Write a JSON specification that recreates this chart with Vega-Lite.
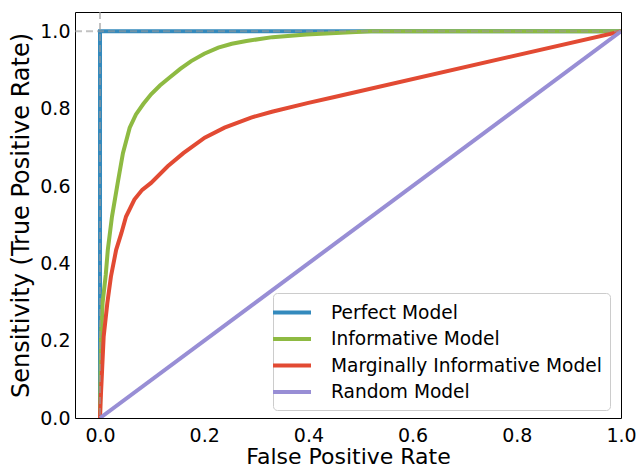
{
  "$schema": "https://vega.github.io/schema/vega-lite/v6.json",
  "width": 546,
  "height": 406,
  "autosize": {"type": "none"},
  "padding": {"left": 75, "top": 12, "right": 15, "bottom": 50},
  "config": {
    "font": "DejaVu Sans",
    "view": {"stroke": "#000000", "strokeWidth": 1},
    "axis": {"grid": false, "domain": false, "ticks": false, "labelFlush": false, "labelOverlap": false, "labelColor": "#000000", "titleColor": "#000000", "labelFontSize": 19, "titleFontSize": 22, "titleFontWeight": "normal"},
    "legend": {"orient": "none", "legendX": 198, "legendY": 281, "fillColor": "rgba(255,255,255,0.8)", "strokeColor": "#cccccc", "cornerRadius": 4, "padding": 8, "symbolType": "M-2,0H2", "symbolSize": 361, "symbolStrokeWidth": 4, "symbolOffset": -0.5, "labelFontSize": 18.6, "labelOffset": 27.5, "rowPadding": 4.5, "labelColor": "#000000", "labelLimit": 400}
  },
  "layer": [
    {
      "data": {"values": [
        {"model": "Perfect Model", "i": 0, "fpr": 0, "tpr": 0},
        {"model": "Perfect Model", "i": 1, "fpr": 0, "tpr": 1},
        {"model": "Perfect Model", "i": 2, "fpr": 1, "tpr": 1},
        {"model": "Informative Model", "i": 0, "fpr": 0, "tpr": 0},
        {"model": "Informative Model", "i": 1, "fpr": 0.001, "tpr": 0.1},
        {"model": "Informative Model", "i": 2, "fpr": 0.002, "tpr": 0.21},
        {"model": "Informative Model", "i": 3, "fpr": 0.005, "tpr": 0.298},
        {"model": "Informative Model", "i": 4, "fpr": 0.011, "tpr": 0.37},
        {"model": "Informative Model", "i": 5, "fpr": 0.015, "tpr": 0.435},
        {"model": "Informative Model", "i": 6, "fpr": 0.023, "tpr": 0.521},
        {"model": "Informative Model", "i": 7, "fpr": 0.034, "tpr": 0.608},
        {"model": "Informative Model", "i": 8, "fpr": 0.044, "tpr": 0.685},
        {"model": "Informative Model", "i": 9, "fpr": 0.057, "tpr": 0.751},
        {"model": "Informative Model", "i": 10, "fpr": 0.069, "tpr": 0.785},
        {"model": "Informative Model", "i": 11, "fpr": 0.083, "tpr": 0.812},
        {"model": "Informative Model", "i": 12, "fpr": 0.098, "tpr": 0.837},
        {"model": "Informative Model", "i": 13, "fpr": 0.115, "tpr": 0.86},
        {"model": "Informative Model", "i": 14, "fpr": 0.133, "tpr": 0.88},
        {"model": "Informative Model", "i": 15, "fpr": 0.154, "tpr": 0.903},
        {"model": "Informative Model", "i": 16, "fpr": 0.175, "tpr": 0.923},
        {"model": "Informative Model", "i": 17, "fpr": 0.2, "tpr": 0.942},
        {"model": "Informative Model", "i": 18, "fpr": 0.227, "tpr": 0.958},
        {"model": "Informative Model", "i": 19, "fpr": 0.253, "tpr": 0.968},
        {"model": "Informative Model", "i": 20, "fpr": 0.281, "tpr": 0.975},
        {"model": "Informative Model", "i": 21, "fpr": 0.331, "tpr": 0.985},
        {"model": "Informative Model", "i": 22, "fpr": 0.396, "tpr": 0.992},
        {"model": "Informative Model", "i": 23, "fpr": 0.453, "tpr": 0.996},
        {"model": "Informative Model", "i": 24, "fpr": 0.52, "tpr": 1.0},
        {"model": "Informative Model", "i": 25, "fpr": 1.0, "tpr": 1.0},
        {"model": "Marginally Informative Model", "i": 0, "fpr": 0, "tpr": 0},
        {"model": "Marginally Informative Model", "i": 1, "fpr": 0.001, "tpr": 0.039},
        {"model": "Marginally Informative Model", "i": 2, "fpr": 0.004, "tpr": 0.124},
        {"model": "Marginally Informative Model", "i": 3, "fpr": 0.007, "tpr": 0.21},
        {"model": "Marginally Informative Model", "i": 4, "fpr": 0.014, "tpr": 0.297},
        {"model": "Marginally Informative Model", "i": 5, "fpr": 0.021, "tpr": 0.366},
        {"model": "Marginally Informative Model", "i": 6, "fpr": 0.031, "tpr": 0.435},
        {"model": "Marginally Informative Model", "i": 7, "fpr": 0.041, "tpr": 0.478},
        {"model": "Marginally Informative Model", "i": 8, "fpr": 0.05, "tpr": 0.521},
        {"model": "Marginally Informative Model", "i": 9, "fpr": 0.066, "tpr": 0.565},
        {"model": "Marginally Informative Model", "i": 10, "fpr": 0.081, "tpr": 0.59},
        {"model": "Marginally Informative Model", "i": 11, "fpr": 0.098, "tpr": 0.608},
        {"model": "Marginally Informative Model", "i": 12, "fpr": 0.13, "tpr": 0.651},
        {"model": "Marginally Informative Model", "i": 13, "fpr": 0.16, "tpr": 0.685},
        {"model": "Marginally Informative Model", "i": 14, "fpr": 0.201, "tpr": 0.725},
        {"model": "Marginally Informative Model", "i": 15, "fpr": 0.239, "tpr": 0.751},
        {"model": "Marginally Informative Model", "i": 16, "fpr": 0.29, "tpr": 0.777},
        {"model": "Marginally Informative Model", "i": 17, "fpr": 0.33, "tpr": 0.792},
        {"model": "Marginally Informative Model", "i": 18, "fpr": 0.4, "tpr": 0.815},
        {"model": "Marginally Informative Model", "i": 19, "fpr": 0.45, "tpr": 0.83},
        {"model": "Marginally Informative Model", "i": 20, "fpr": 1.0, "tpr": 1.0},
        {"model": "Random Model", "i": 0, "fpr": 0, "tpr": 0},
        {"model": "Random Model", "i": 1, "fpr": 1, "tpr": 1}
      ]},
      "mark": {"type": "line", "strokeWidth": 4, "clip": true},
      "encoding": {
        "x": {"field": "fpr", "type": "quantitative", "title": "False Positive Rate",
              "scale": {"domain": [-0.048, 1.0], "nice": false, "zero": false},
              "axis": {"values": [0, 0.2, 0.4, 0.6, 0.8, 1.0], "format": ".1f", "labelPadding": 8, "titlePadding": 1}},
        "y": {"field": "tpr", "type": "quantitative", "title": "Sensitivity (True Positive Rate)",
              "scale": {"domain": [0, 1.05], "nice": false, "zero": false},
              "axis": {"values": [0, 0.2, 0.4, 0.6, 0.8, 1.0], "format": ".1f", "labelPadding": 5, "titlePadding": 6, "titleFontSize": 24}},
        "color": {"field": "model", "type": "nominal", "title": null,
                  "scale": {"domain": ["Perfect Model", "Informative Model", "Marginally Informative Model", "Random Model"],
                            "range": ["#348ABD", "#8EBA42", "#E24A33", "#988ED5"]}},
        "order": {"field": "i", "type": "quantitative"}
      }
    },
    {
      "data": {"values": [{"v": 0}]},
      "mark": {"type": "rule", "color": "#999999", "opacity": 0.6, "strokeWidth": 2, "strokeDash": [7, 4]},
      "encoding": {"x": {"field": "v", "type": "quantitative"}}
    },
    {
      "data": {"values": [{"v": 1}]},
      "mark": {"type": "rule", "color": "#999999", "opacity": 0.6, "strokeWidth": 2, "strokeDash": [7, 4]},
      "encoding": {"y": {"field": "v", "type": "quantitative"}}
    }
  ]
}
